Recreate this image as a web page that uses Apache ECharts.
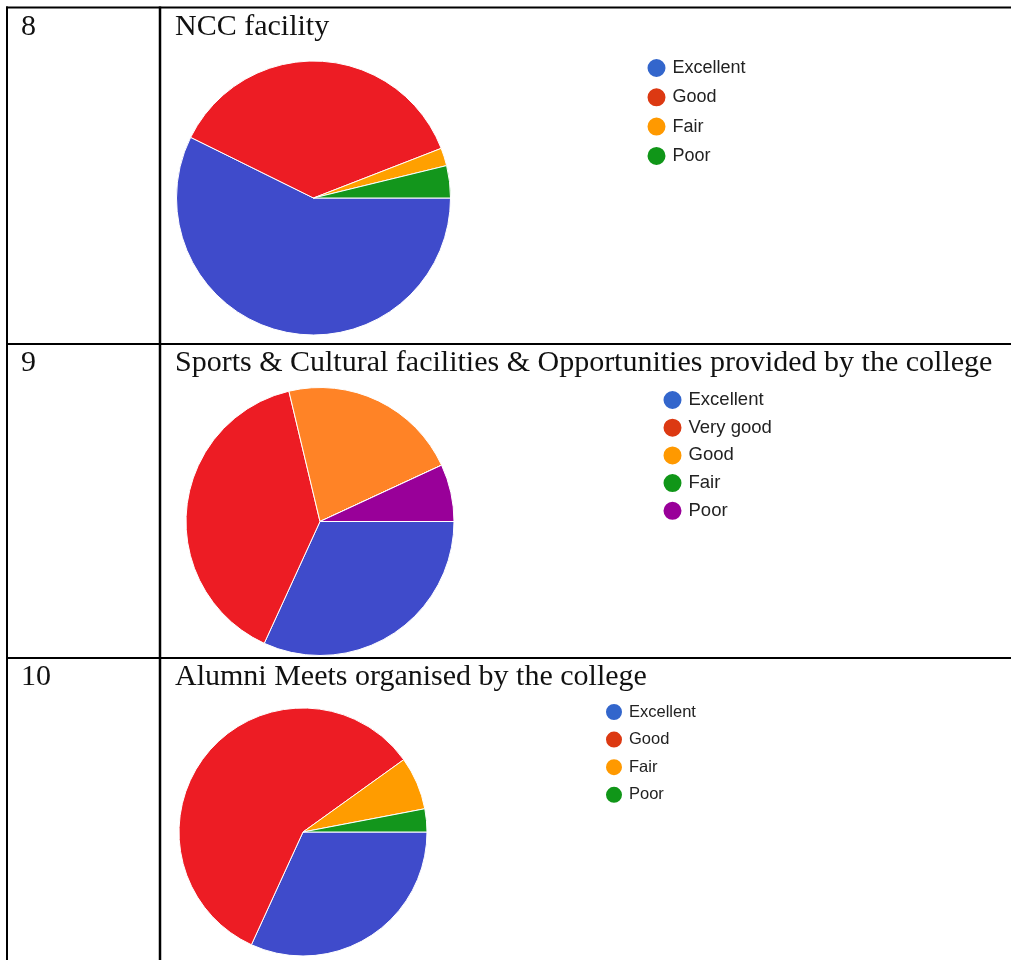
<!DOCTYPE html>
<html>
<head>
<meta charset="utf-8">
<script src="https://cdn.jsdelivr.net/npm/echarts@6/dist/echarts.min.js"></script>
<style>
html,body{margin:0;padding:0;background:#fff;}
#chart{width:1011px;height:960px;}
</style>
</head>
<body>
<div id="chart"></div>
<script>
// Row numbers and titles
const rowNumbers = ['8', '9', '10'];
const rowTitles = [
  'NCC facility',
  'Sports & Cultural facilities & Opportunities provided by the college',
  'Alumni Meets organised by the college'
];

// Pie 1: NCC facility (percent share)
const ratings1 = ['Excellent', 'Good', 'Fair', 'Poor'];
const values1 = [57.3, 36.8, 2.1, 3.8];

// Pie 2: Sports & Cultural facilities
const ratings2 = ['Excellent', 'Very good', 'Good', 'Fair', 'Poor'];
const values2 = [31.8, 39.4, 21.8, 0, 6.9];

// Pie 3: Alumni Meets
const ratings3 = ['Excellent', 'Good', 'Fair', 'Poor'];
const values3 = [31.8, 58.2, 6.9, 3.0];

// slice colours
const sliceColors1 = ['#3f4bcb', '#ed1c24', '#ffa000', '#13961c'];
const sliceColors2 = ['#3f4bcb', '#ed1c24', '#ff8326', '#13961c', '#990099'];
const sliceColors3 = ['#3f4bcb', '#ed1c24', '#ff9c00', '#13961c'];
// legend colours
const legendColors1 = ['#3366cc', '#dc3912', '#ff9900', '#109618'];
const legendColors2 = ['#3366cc', '#dc3912', '#ff9900', '#109618', '#990099'];
const legendColors3 = ['#3366cc', '#dc3912', '#ff9900', '#109618'];

const chart = echarts.init(document.getElementById('chart'), null, {renderer: 'canvas'});

function pieSeries(names, values, colors, center, radius) {
  return {
    type: 'pie',
    center: center,
    radius: radius,
    startAngle: 0,
    clockwise: true,
    silent: true,
    avoidLabelOverlap: false,
    label: {show: false},
    labelLine: {show: false},
    emphasis: {disabled: true},
    itemStyle: {borderColor: '#ffffff', borderWidth: 1},
    data: names.map((n, i) => ({name: n, value: values[i], itemStyle: {color: colors[i]}}))
  };
}

function legendFor(names, colors, left, top, size, gap, fontSize) {
  return {
    orient: 'vertical',
    left: left,
    top: top,
    padding: 0,
    icon: 'circle',
    itemWidth: size,
    itemHeight: size,
    itemGap: gap,
    selectedMode: false,
    textStyle: {
      fontFamily: 'Liberation Sans, Arial, sans-serif',
      fontSize: fontSize,
      lineHeight: size,
      color: '#222',
      padding: [0, 0, 0, 1]
    },
    data: names.map((n, i) => ({name: n, itemStyle: {color: colors[i]}}))
  };
}

const lineStyle = {stroke: '#000', lineWidth: 2};
const graphics = [
  {type: 'line', shape: {x1: 6, y1: 7.5, x2: 1011, y2: 7.5}, style: lineStyle},
  {type: 'line', shape: {x1: 7, y1: 6.5, x2: 7, y2: 960}, style: lineStyle},
  {type: 'line', shape: {x1: 160, y1: 6.5, x2: 160, y2: 960}, style: {stroke: '#000', lineWidth: 2.5}},
  {type: 'line', shape: {x1: 6, y1: 344, x2: 1011, y2: 344}, style: lineStyle},
  {type: 'line', shape: {x1: 6, y1: 658, x2: 1011, y2: 658}, style: lineStyle}
];
const rowTextY = [27, 363, 677];
const serifFont = '30px "Liberation Serif", "Times New Roman", serif';
rowNumbers.forEach((t, i) => {
  graphics.push({type: 'text', x: 21, y: rowTextY[i], style: {text: t, fill: '#111', font: serifFont, verticalAlign: 'middle', align: 'left'}});
});
rowTitles.forEach((t, i) => {
  graphics.push({type: 'text', x: 175, y: rowTextY[i], style: {text: t, fill: '#111', font: serifFont, verticalAlign: 'middle', align: 'left'}});
});

chart.setOption({
  animation: false,
  backgroundColor: '#ffffff',
  legend: [
    legendFor(ratings1, legendColors1, 645.5, 57, 20, 7.3, 18),
    legendFor(ratings2, legendColors2, 661.5, 389, 20, 5.7, 18.5),
    legendFor(ratings3, legendColors3, 604, 702, 18, 7.6, 16.5)
  ],
  series: [
    pieSeries(ratings1, values1, sliceColors1, [313.5, 198], 137),
    pieSeries(ratings2, values2, sliceColors2, [320, 521.5], 134),
    pieSeries(ratings3, values3, sliceColors3, [303, 832], 124)
  ],
  graphic: graphics
});
</script>
</body>
</html>
